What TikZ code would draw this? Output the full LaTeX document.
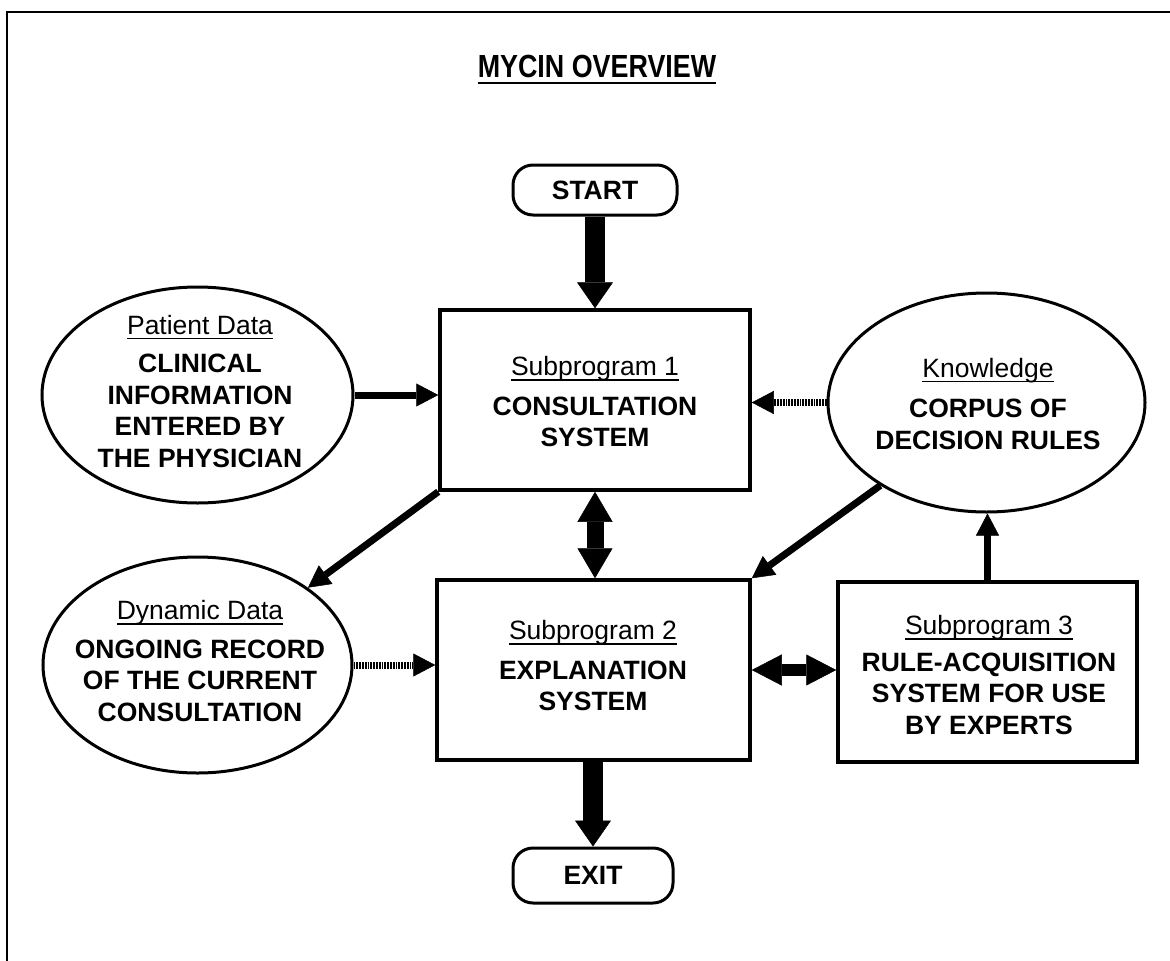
\documentclass[tikz,border=0pt]{standalone}
\usepackage{fontspec}
\setmainfont{Liberation Sans}
\usepackage{graphicx}
\usetikzlibrary{arrows.meta,shapes.geometric,calc}
\newsavebox\hdrbox
\newcommand\hdr[1]{\sbox\hdrbox{\mdseries #1}\rlap{\rule[-5pt]{\wd\hdrbox}{1.6pt}}\usebox\hdrbox}
\tikzset{
 outerframe/.style={line width=2.5pt},
 blk/.style={draw, line width=3.5pt, rectangle, inner sep=0pt},
 term/.style={draw, line width=3pt, rounded corners=20pt, inner sep=0pt, minimum width=164pt, minimum height=50pt, font=\fontsize{26.5}{31.5}\selectfont\bfseries},
 oval/.style={draw, ellipse, line width=3pt, inner sep=0pt},
 txt/.style={align=center, inner sep=0pt, font=\fontsize{26.5}{31.5}\selectfont\bfseries},
 heavy/.style={line width=20pt, -{Triangle[width=36pt,length=26pt,line width=0.5pt]}},
 heavytwo/.style={line width=17pt, {Triangle[width=35pt,length=30pt,line width=0.5pt]}-{Triangle[width=35pt,length=30pt,line width=0.5pt]}},
 medarrow/.style={line width=7pt, -{Triangle[width=23pt,length=22pt,line width=0.5pt]}},
 hatcharrow/.style={medarrow, dash pattern=on 1.8pt off 1pt},
 midtwo/.style={line width=12pt, {Triangle[width=31pt,length=30pt,line width=0.5pt]}-{Triangle[width=31pt,length=30pt,line width=0.5pt]}},
}
\begin{document}
\begin{tikzpicture}[x=1pt,y=-1pt]
\useasboundingbox (0,0) rectangle (1170,961);
\fill[white] (0,0) rectangle (1170,961);
\draw[outerframe] (7,961) -- (7,12) -- (1170,12);

% title
\node[inner sep=0pt] (title) at (597,66.5) {\scalebox{0.84}[1]{\fontsize{32}{36}\selectfont\bfseries MYCIN OVERVIEW}};
\draw[line width=2.5pt] ([yshift=-5pt]title.south west) -- ([yshift=-5pt]title.south east);

% terminals
\node[term] (start) at (595,190) {START};
\node[term, minimum width=160pt, minimum height=55pt] (exit) at (593,875.5) {EXIT};

% boxes
\node[blk, minimum width=310pt, minimum height=180pt] (b1) at (595,400) {};
\node[blk, minimum width=313pt, minimum height=180pt] (b2) at (593.5,670) {};
\node[blk, minimum width=299pt, minimum height=180pt] (b3) at (987.5,672) {};

% ellipses
\node[oval, minimum width=311pt, minimum height=216pt] (pd) at (197.5,395) {};
\node[oval, minimum width=309pt, minimum height=216pt] (dd) at (197.5,665) {};
\node[oval, minimum width=317pt, minimum height=219pt] (kn) at (986.5,402.5) {};

% texts
\node[txt] (t1) at (595,402) {\hdr{Subprogram 1}\\[8pt]CONSULTATION\\SYSTEM};
\node[txt] (t2) at (593,666) {\hdr{Subprogram 2}\\[8pt]EXPLANATION\\SYSTEM};
\node[txt] (t3) at (989,675) {\hdr{Subprogram 3}\\[5pt]RULE-ACQUISITION\\SYSTEM FOR USE\\BY EXPERTS};
\node[txt] (tpd) at (200,391.5) {\hdr{Patient Data}\\[7pt]CLINICAL\\INFORMATION\\ENTERED BY\\THE PHYSICIAN};
\node[txt] (tdd) at (200,661) {\hdr{Dynamic Data}\\[7pt]ONGOING RECORD\\OF THE CURRENT\\CONSULTATION};
\node[txt] (tkn) at (988,404) {\hdr{Knowledge}\\[9pt]CORPUS OF\\DECISION RULES};

% connectors
\draw[heavy] (start.south) -- (b1.north);
\draw[heavytwo] (b1.south) -- (b1.south |- b2.north);
\draw[heavy] (exit.north |- b2.south) -- (exit.north);
\draw[medarrow] (pd.east) -- (pd.east -| b1.west);
\draw[hatcharrow] (kn.west) -- (kn.west -| b1.east);
\draw[hatcharrow] (dd.east) -- (dd.east -| b2.west);
\draw[medarrow] (b1.south west) -- (dd.35);
\draw[medarrow] (kn.218) -- (b2.north east);
\draw[medarrow] (b3.north) -- (b3.north |- kn.south);
\draw[midtwo] (b2.east) -- (b2.east -| b3.west);
\end{tikzpicture}
\end{document}
